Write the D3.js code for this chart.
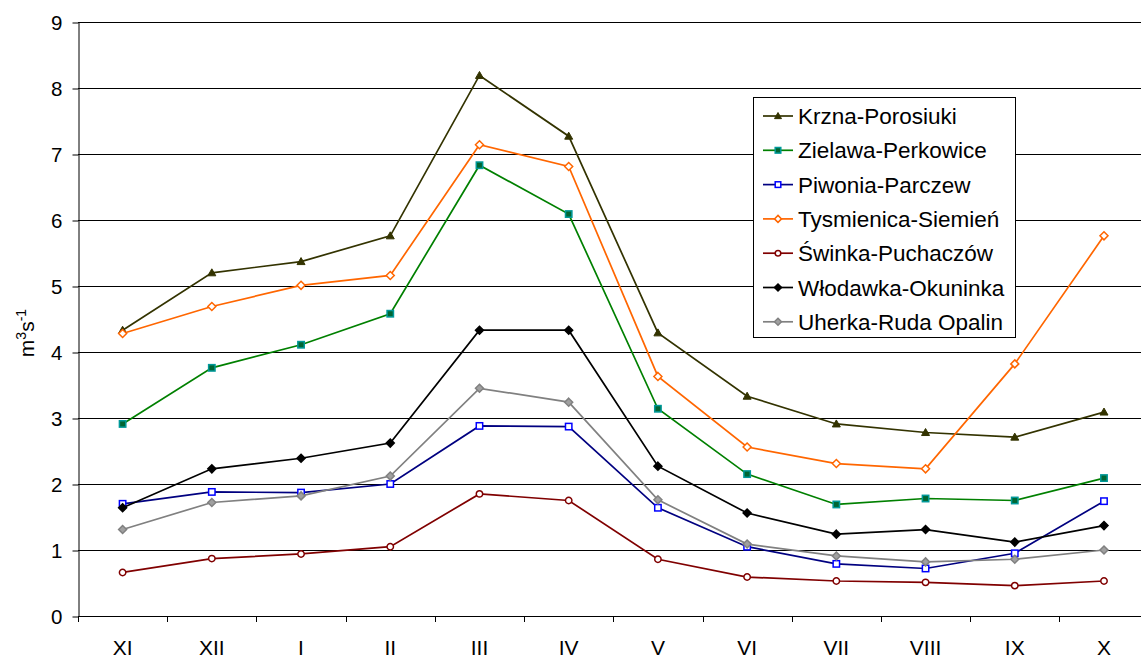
<!DOCTYPE html>
<html>
<head>
<meta charset="utf-8">
<script src="https://cdn.jsdelivr.net/npm/d3@7"></script>
<style>
  html, body { margin: 0; padding: 0; background: #fff; }
  svg { display: block; font-family: "Liberation Sans", Arial, sans-serif; }
</style>
</head>
<body>
<svg id="chart" width="1141" height="659"></svg>
<script>
// ---- data ----
const categories = ["XI", "XII", "I", "II", "III", "IV", "V", "VI", "VII", "VIII", "IX", "X"];
const yTicks = [0, 1, 2, 3, 4, 5, 6, 7, 8, 9];

const krzna      = [4.33, 5.20, 5.37, 5.76, 8.19, 7.27, 4.29, 3.33, 2.91, 2.78, 2.71, 3.09];
const zielawa    = [2.91, 3.76, 4.11, 4.58, 6.83, 6.09, 3.14, 2.15, 1.69, 1.78, 1.75, 2.09];
const piwonia    = [1.70, 1.88, 1.87, 2.00, 2.88, 2.87, 1.64, 1.05, 0.79, 0.72, 0.95, 1.74];
const tysmienica = [4.28, 4.69, 5.01, 5.16, 7.14, 6.81, 3.63, 2.56, 2.31, 2.23, 3.82, 5.76];
const swinka     = [0.66, 0.87, 0.94, 1.05, 1.85, 1.75, 0.86, 0.59, 0.53, 0.51, 0.46, 0.53];
const wlodawka   = [1.64, 2.23, 2.39, 2.62, 4.33, 4.33, 2.27, 1.56, 1.24, 1.31, 1.12, 1.37];
const uherka     = [1.31, 1.72, 1.82, 2.12, 3.45, 3.24, 1.76, 1.09, 0.91, 0.82, 0.86, 1.00];

const seriesNames = ["Krzna-Porosiuki", "Zielawa-Perkowice", "Piwonia-Parczew",
  "Tysmienica-Siemień", "Świnka-Puchaczów", "Włodawka-Okuninka", "Uherka-Ruda Opalin"];

// ---- styles ----
const styles = [
  { line: "#333300", marker: "triangle", fill: "#333300", stroke: "#333300" },
  { line: "#008000", marker: "square",   fill: "#006633", stroke: "#009999" },
  { line: "#000080", marker: "square",   fill: "#ffffff", stroke: "#0000ff" },
  { line: "#ff6600", marker: "diamond",  fill: "#ffffff", stroke: "#ff6600" },
  { line: "#800000", marker: "circle",   fill: "#ffffff", stroke: "#800000" },
  { line: "#000000", marker: "diamond",  fill: "#000000", stroke: "#000000" },
  { line: "#808080", marker: "diamond",  fill: "#a0a0a0", stroke: "#808080" }
];
const seriesData = [krzna, zielawa, piwonia, tysmienica, swinka, wlodawka, uherka];

const svg = d3.select("#chart");
const plotLeft = 78, plotRight = 1148.6, plotTop = 22, plotBottom = 616;

const x = d3.scaleBand().domain(categories).range([plotLeft, plotRight]).paddingInner(0).paddingOuter(0);
const y = d3.scaleLinear().domain([0, 9]).range([plotBottom, plotTop]);
const cx = c => x(c) + x.bandwidth() / 2;

// gridlines
svg.append("g").selectAll("line").data(yTicks.filter(t => t > 0)).join("line")
  .attr("x1", plotLeft).attr("x2", 1141)
  .attr("y1", d => Math.round(y(d)) + 0.5).attr("y2", d => Math.round(y(d)) + 0.5)
  .attr("stroke", "#000").attr("stroke-width", 1);

// y axis
const yAxis = svg.append("g").attr("transform", `translate(${plotLeft + 0.5},0.5)`)
  .call(d3.axisLeft(y).tickValues(yTicks).tickSize(6).tickPadding(10).tickSizeOuter(0));
yAxis.select(".domain").attr("stroke", "#000");
yAxis.selectAll(".tick line").attr("stroke", "#000");
yAxis.selectAll("text").attr("font-size", 20.5).attr("fill", "#000")
  .attr("font-family", "Liberation Sans, Arial, sans-serif");

// x axis (labels)
const xAxis = svg.append("g").attr("transform", `translate(0,${plotBottom + 0.5})`)
  .call(d3.axisBottom(x).tickSize(0).tickPadding(24).tickSizeOuter(0));
xAxis.select(".domain").remove();
xAxis.selectAll("text").attr("font-size", 21).attr("fill", "#000")
  .attr("font-family", "Liberation Sans, Arial, sans-serif");
svg.append("line").attr("x1", plotLeft).attr("x2", 1141)
  .attr("y1", plotBottom + 0.5).attr("y2", plotBottom + 0.5).attr("stroke", "#000");
// boundary ticks
svg.append("g").selectAll("line").data(categories).join("line")
  .attr("x1", d => Math.round(x(d)) + 0.5).attr("x2", d => Math.round(x(d)) + 0.5)
  .attr("y1", plotBottom).attr("y2", plotBottom + 6).attr("stroke", "#000");

// y axis title
const yt = svg.append("text")
  .attr("transform", `translate(34,333) rotate(-90)`)
  .attr("text-anchor", "middle").attr("font-size", 21).attr("fill", "#000");
yt.append("tspan").text("m");
yt.append("tspan").attr("dy", -8).attr("font-size", 14).text("3");
yt.append("tspan").attr("dy", 8).text("s");
yt.append("tspan").attr("dy", -8).attr("font-size", 14).text("-1");

// marker drawing
function drawMarker(g, type, st, s) {
  if (type === "triangle") {
    g.append("path").attr("d", `M0,${-s}L${s},${s * 0.75}L${-s},${s * 0.75}Z`)
      .attr("fill", st.fill).attr("stroke", st.stroke).attr("stroke-width", 1);
  } else if (type === "square") {
    g.append("rect").attr("x", -s * 0.8).attr("y", -s * 0.8).attr("width", s * 1.6).attr("height", s * 1.6)
      .attr("fill", st.fill).attr("stroke", st.stroke).attr("stroke-width", 1.5);
  } else if (type === "diamond") {
    g.append("path").attr("d", `M0,${-s}L${s},0L0,${s}L${-s},0Z`)
      .attr("fill", st.fill).attr("stroke", st.stroke).attr("stroke-width", 1.5);
  } else if (type === "circle") {
    g.append("circle").attr("r", s * 0.8)
      .attr("fill", st.fill).attr("stroke", st.stroke).attr("stroke-width", 1.5);
  }
}

const line = d3.line().x((d, i) => cx(categories[i])).y(d => y(d));

seriesData.forEach((vals, k) => {
  const st = styles[k];
  svg.append("path").datum(vals).attr("d", line)
    .attr("fill", "none").attr("stroke", st.line).attr("stroke-width", 1.7);
  const g = svg.append("g");
  vals.forEach((v, i) => {
    const m = g.append("g").attr("transform", `translate(${cx(categories[i])},${y(v)})`);
    drawMarker(m, st.marker, st, 4);
  });
});

// legend
const lg = svg.append("g");
lg.append("rect").attr("x", 753.5).attr("y", 97.5).attr("width", 262).attr("height", 240)
  .attr("fill", "#fff").attr("stroke", "#000").attr("stroke-width", 1);
seriesNames.forEach((name, k) => {
  const st = styles[k];
  const cy = 116 + k * 34.3;
  lg.append("line").attr("x1", 763).attr("x2", 793).attr("y1", cy).attr("y2", cy)
    .attr("stroke", st.line).attr("stroke-width", 1.7);
  const m = lg.append("g").attr("transform", `translate(778,${cy})`);
  drawMarker(m, st.marker, st, 3.5);
  lg.append("text").attr("x", 798).attr("y", cy + 8).attr("font-size", 22.5).attr("fill", "#000").text(name);
});
</script>
</body>
</html>
